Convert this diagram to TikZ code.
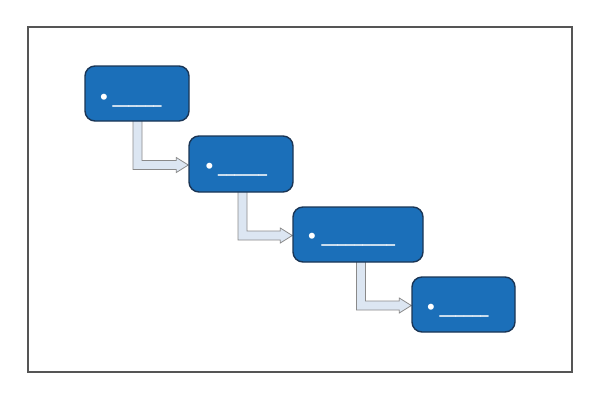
\documentclass[tikz,border=0pt]{standalone}
\usepackage{fontspec}
\setmainfont{Liberation Sans}
\usetikzlibrary{calc}
\pgfdeclarelayer{background}
\pgfsetlayers{background,main}
\definecolor{boxblue}{HTML}{1B6FB9}
\definecolor{boxedge}{HTML}{1A3555}
\definecolor{arrfill}{HTML}{DCE6F2}
\definecolor{arredge}{HTML}{8A8A8A}
\definecolor{framegray}{HTML}{555555}
\newcommand{\bigbul}{{\fontsize{22}{22}\selectfont\raisebox{-2.3pt}{•}}}
\newcommand{\blanks}[1]{\scalebox{0.6125}[1]{\fontsize{24}{24}\selectfont #1}}
\begin{document}
\begin{tikzpicture}[x=1pt,y=-1pt,
  stepbox/.style={draw=boxedge, fill=boxblue, line width=1.4pt, rounded corners=10pt,
    minimum height=55pt, inner sep=0pt},
  lbl/.style={anchor=base west, inner sep=0pt, text=white,
    font=\fontsize{14.7}{16}\selectfont},
  flow/.style={draw=arredge, fill=arrfill, line width=0.8pt}]
\useasboundingbox (0,0) rectangle (600,400);
\node[rectangle, draw=framegray, line width=1.5pt, minimum width=544pt,
  minimum height=345pt, inner sep=0pt] (frm) at (300,199.5) {};
\node[stepbox, minimum width=104pt] (b1) at (137,93.5) {};
\node[stepbox, minimum width=104pt, minimum height=56pt] (b2) at (241,164) {};
\node[stepbox, minimum width=130pt] (b3) at (358,234.5) {};
\node[stepbox, minimum width=103pt] (b4) at (463.5,304.5) {};
\node[lbl] (t1) at ($(b1.west)+(15.7,9)$) {\bigbul\hspace{4.7pt}\blanks{\_\_\_\_\_\_}};
\node[lbl] (t2) at ($(b2.west)+(17.2,7.5)$) {\bigbul\hspace{4.7pt}\blanks{\_\_\_\_\_\_}};
\node[lbl] (t3) at ($(b3.west)+(15.7,7)$) {\bigbul\hspace{5.7pt}\blanks{\_\_\_\_\_\_\_\_\_}};
\node[lbl] (t4) at ($(b4.west)+(15.7,8)$) {\bigbul\hspace{4.7pt}\blanks{\_\_\_\_\_\_}};
\begin{pgfonlayer}{background}
\foreach \src/\dst/\dx in {b1/b2/0.5, b2/b3/1.5, b3/b4/3}{
  \draw[flow] let \p1=($(\src.south)+(\dx,-2)$), \p2=($(\dst.west)+(0,1)$) in
    (\x1-4.5pt,\y1) -- (\x1-4.5pt,\y2-4.5pt) -- (\x2-12pt,\y2-4.5pt)
    -- (\x2-12pt,\y2-7.5pt) -- (\x2,\y2) -- (\x2-12pt,\y2+7.5pt)
    -- (\x2-12pt,\y2+4.5pt) -- (\x1+4.5pt,\y2+4.5pt) -- (\x1+4.5pt,\y1) -- cycle;
}
\end{pgfonlayer}
\end{tikzpicture}
\end{document}
